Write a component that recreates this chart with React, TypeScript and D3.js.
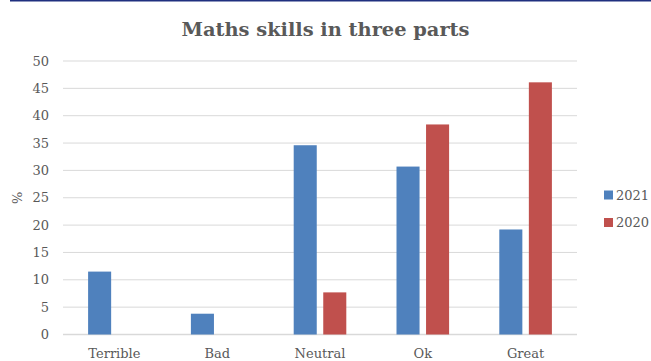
import React from "react";
import * as d3 from "d3";

const categories = ["Terrible", "Bad", "Neutral", "Ok", "Great"];
const seriesNames = ["2021", "2020"];
const values2021 = [11.5, 3.8, 34.6, 30.7, 19.2];
const values2020 = [0, 0, 7.7, 38.4, 46.1];
const yTicks = [0, 5, 10, 15, 20, 25, 30, 35, 40, 45, 50];
const colors = ["#4f81bd", "#c0504d"];

const W = 651;
const H = 361;
const plot = { left: 63, right: 577, top: 61, bottom: 334.5 };
const font = "'DejaVu Serif', 'Liberation Serif', serif";
const textColor = "#595959";

export default function App() {
  const x = d3
    .scaleBand<string>()
    .domain(categories)
    .range([plot.left, plot.right])
    .paddingInner(0)
    .paddingOuter(0);
  const y = d3.scaleLinear().domain([0, 50]).range([plot.bottom, plot.top]);

  const groupW = 52.6;
  const inner = d3
    .scaleBand<string>()
    .domain(seriesNames)
    .range([0, groupW])
    .paddingInner(0.22)
    .paddingOuter(0);

  const series = [values2021, values2020];

  return (
    <svg
      width={W}
      height={H}
      style={{ position: "absolute", left: 0, top: 0, background: "#fff" }}
    >
      <rect x={0} y={0} width={W} height={H} fill="#fff" />
      <line x1={10} x2={W} y1={0.75} y2={0.75} stroke="#1f2f7f" strokeWidth={1.5} />

      <text
        x={325.5}
        y={36}
        textAnchor="middle"
        fontFamily={font}
        fontWeight="bold"
        fontSize={19.4}
        fill={textColor}
      >
        Maths skills in three parts
      </text>

      {yTicks.map((t) => (
        <g key={t}>
          <line
            x1={plot.left}
            x2={plot.right}
            y1={y(t)}
            y2={y(t)}
            stroke="#d9d9d9"
            strokeWidth={t === 0 ? 1.5 : 1}
          />
          <text
            x={49}
            y={y(t)}
            dy="0.35em"
            textAnchor="end"
            fontFamily={font}
            fontSize={13}
            fill={textColor}
          >
            {t}
          </text>
        </g>
      ))}

      <text
        transform={`translate(22, ${y(25)}) rotate(-90)`}
        textAnchor="middle"
        fontFamily={font}
        fontSize={13}
        fill={textColor}
      >
        %
      </text>

      {categories.map((c, i) => {
        const gx = (x(c) as number) + (x.bandwidth() - groupW) / 2;
        return (
          <g key={c}>
            {series.map((vals, s) =>
              vals[i] > 0 ? (
                <rect
                  key={s}
                  x={gx + (inner(seriesNames[s]) as number)}
                  y={y(vals[i])}
                  width={inner.bandwidth()}
                  height={y(0) - y(vals[i])}
                  fill={colors[s]}
                />
              ) : null
            )}
            <text
              x={(x(c) as number) + x.bandwidth() / 2}
              y={358}
              textAnchor="middle"
              fontFamily={font}
              fontSize={13}
              fill={textColor}
            >
              {c}
            </text>
          </g>
        );
      })}

      {seriesNames.map((n, s) => (
        <g key={n} transform={`translate(604, ${195 + s * 27.5})`}>
          <rect x={0} y={-4.5} width={9} height={9} fill={colors[s]} />
          <text
            x={12}
            y={0}
            dy="0.35em"
            fontFamily={font}
            fontSize={13}
            fill={textColor}
          >
            {n}
          </text>
        </g>
      ))}
    </svg>
  );
}
